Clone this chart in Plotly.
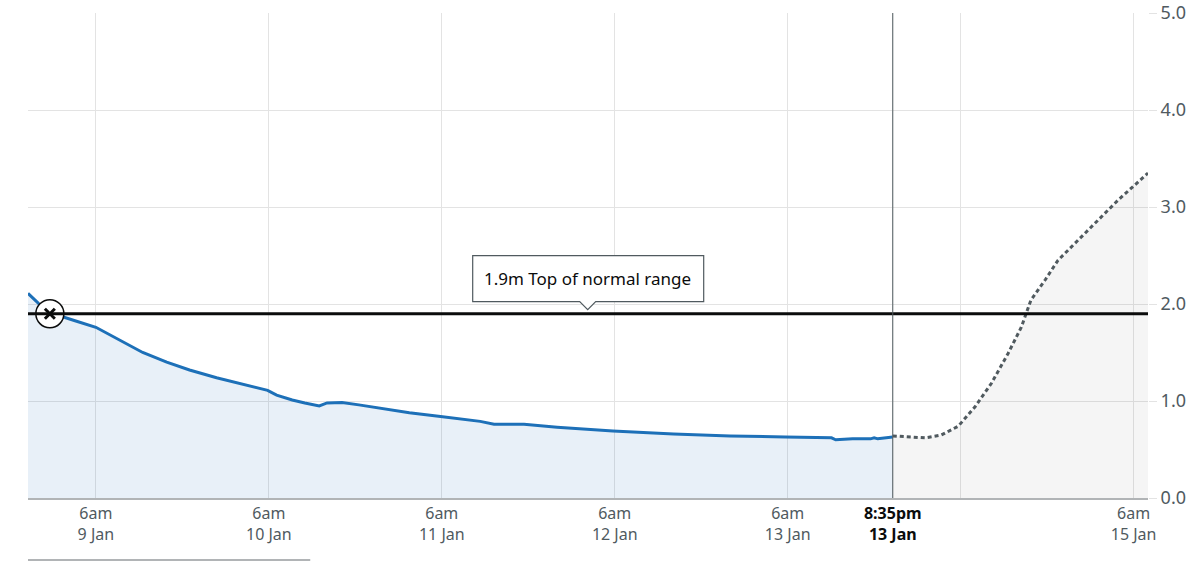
import plotly.graph_objects as go

# river level readings (m) - observed
hist_times = [
    "2025-01-08 20:35", "2025-01-08 22:00", "2025-01-08 23:37", "2025-01-09 01:00",
    "2025-01-09 03:00", "2025-01-09 06:00", "2025-01-09 09:20", "2025-01-09 12:30",
    "2025-01-09 15:50", "2025-01-09 19:00", "2025-01-09 22:45", "2025-01-10 02:30",
    "2025-01-10 05:50", "2025-01-10 07:05", "2025-01-10 09:15", "2025-01-10 11:00",
    "2025-01-10 13:00", "2025-01-10 14:05", "2025-01-10 16:10", "2025-01-10 18:30",
    "2025-01-10 21:10", "2025-01-11 01:30", "2025-01-11 05:50", "2025-01-11 09:00",
    "2025-01-11 11:20", "2025-01-11 13:15", "2025-01-11 17:25", "2025-01-11 22:00",
    "2025-01-12 05:45", "2025-01-12 14:10", "2025-01-12 22:00", "2025-01-13 05:40",
    "2025-01-13 12:05", "2025-01-13 12:40", "2025-01-13 15:00", "2025-01-13 17:30",
    "2025-01-13 18:00", "2025-01-13 18:30", "2025-01-13 20:35",
]
hist_levels = [
    2.11, 2.01, 1.91, 1.88,
    1.83, 1.76, 1.63, 1.50,
    1.40, 1.32, 1.24, 1.17,
    1.11, 1.06, 1.01, 0.98,
    0.95, 0.98, 0.985, 0.96,
    0.93, 0.88, 0.84, 0.81,
    0.79, 0.76, 0.76, 0.73,
    0.69, 0.66, 0.64, 0.63,
    0.62, 0.60, 0.61, 0.61,
    0.62, 0.61, 0.63,
]

# forecast
fc_times = [
    "2025-01-13 20:35", "2025-01-13 23:00", "2025-01-14 01:05", "2025-01-14 03:20",
    "2025-01-14 05:40", "2025-01-14 08:00", "2025-01-14 10:15", "2025-01-14 12:35",
    "2025-01-14 14:25", "2025-01-14 15:45", "2025-01-14 17:45", "2025-01-14 19:30",
    "2025-01-14 22:20", "2025-01-15 01:05", "2025-01-15 03:50", "2025-01-15 08:00",
]
fc_levels = [
    0.64, 0.63, 0.62, 0.65,
    0.74, 0.94, 1.18, 1.49,
    1.76, 2.04, 2.25, 2.45,
    2.66, 2.87, 3.07, 3.35,
]

top_of_normal = 1.9
normal_label = "1.9m Top of normal range"
crossing_time = "2025-01-08 23:37"
now_time = "2025-01-13 20:35"
label_time = "2025-01-12 02:15"

tick_times = [
    "2025-01-09 06:00", "2025-01-10 06:00", "2025-01-11 06:00", "2025-01-12 06:00",
    "2025-01-13 06:00", now_time, "2025-01-14 06:00", "2025-01-15 06:00",
]
tick_labels = [
    "6am<br>9 Jan", "6am<br>10 Jan", "6am<br>11 Jan", "6am<br>12 Jan", "6am<br>13 Jan",
    "<span style='color:#0b0c0c'><b>8:35pm</b></span><br><span style='color:#0b0c0c'><b>13 Jan</b></span>",
    "", "6am<br>15 Jan",
]
y_ticks = [0, 1, 2, 3, 4, 5]

grey = "#505a5f"
grid = "#e3e3e3"

fig = go.Figure()

fig.add_trace(go.Scatter(
    x=fc_times, y=fc_levels, mode="lines", fill="tozeroy",
    fillcolor="rgba(0,0,0,0.04)",
    line=dict(color=grey, width=3, dash="4px,3px"),
))
fig.add_trace(go.Scatter(
    x=hist_times, y=hist_levels, mode="lines", fill="tozeroy",
    fillcolor="rgba(29,112,184,0.1)",
    line=dict(color="#1d70b8", width=3),
))

# top of normal range line
fig.add_shape(type="line", xref="paper", x0=0, x1=1, yref="y",
              y0=top_of_normal, y1=top_of_normal,
              line=dict(color="#0b0c0c", width=3))
# now line
fig.add_shape(type="line", xref="x", x0=now_time, x1=now_time, yref="paper",
              y0=0, y1=1, line=dict(color=grey, width=1))

# label box with pointer
fig.add_shape(type="path", xref="x", yref="y", xsizemode="pixel", ysizemode="pixel",
              xanchor=label_time, yanchor=top_of_normal,
              path="M -115,12 L -8,12 L 0,4 L 8,12 L 116,12 L 116,58 L -115,58 Z",
              fillcolor="white", line=dict(color=grey, width=1.2))
fig.add_annotation(x=label_time, y=top_of_normal, yshift=35, text=normal_label,
                   showarrow=False, font=dict(size=17, color="#0b0c0c"))

# crossing marker
fig.add_trace(go.Scatter(
    x=[crossing_time], y=[top_of_normal], mode="markers",
    marker=dict(symbol="circle", size=28, color="white",
                line=dict(color="#0b0c0c", width=1.5)),
))
fig.add_trace(go.Scatter(
    x=[crossing_time], y=[top_of_normal], mode="markers",
    marker=dict(symbol="x-thin", size=10, line=dict(color="#0b0c0c", width=3)),
))

# stray rule under the chart
fig.add_shape(type="line", xref="paper", yref="paper", x0=0, x1=0.252,
              y0=-0.128, y1=-0.128, line=dict(color="#b1b4b6", width=2))

fig.update_layout(
    width=1200, height=562,
    margin=dict(l=28, r=52, t=13, b=64, autoexpand=False),
    plot_bgcolor="white", paper_bgcolor="white",
    showlegend=False,
    font=dict(family="Noto Sans", color=grey),
    xaxis=dict(
        type="date", range=["2025-01-08 20:35", "2025-01-15 08:00"],
        tickvals=tick_times, ticktext=tick_labels, automargin=False,
        showgrid=True, gridcolor=grid, gridwidth=1,
        showline=True, linecolor="#b1b4b6", linewidth=2,
        ticks="", tickfont=dict(size=16, color=grey),
        zeroline=False,
    ),
    yaxis=dict(
        side="right", range=[0, 5], tickvals=y_ticks, automargin=False,
        tickformat=".1f", showgrid=True, gridcolor=grid, gridwidth=1,
        ticks="outside", ticklen=8, tickcolor=grid,
        tickfont=dict(size=18, color=grey), ticklabeloverflow="allow",
        zeroline=False, showline=False,
    ),
)

# drop the default 8px body margin so the figure fills the window
fig.write_html("out.html", config={"displayModeBar": False},
               post_script="document.body.style.margin='0';")
